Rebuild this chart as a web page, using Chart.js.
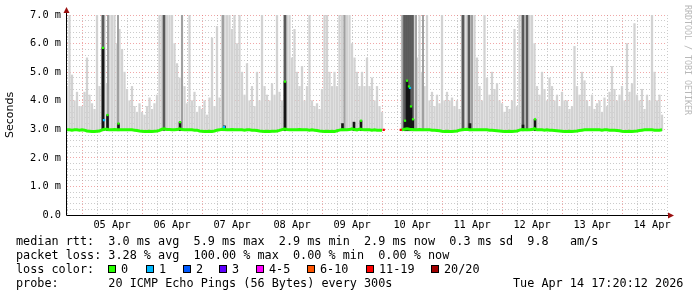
<!DOCTYPE html>
<html>
<head>
<meta charset="utf-8">
<script src="https://cdn.jsdelivr.net/npm/chart.js@4.4.1/dist/chart.umd.min.js"></script>
<style>
  html, body { margin: 0; padding: 0; background: #fff; }
  #wrap { position: relative; width: 697px; height: 297px; overflow: hidden; }
  #chart { position: absolute; left: 0; top: 0; }
  .t { position: absolute; font-family: "DejaVu Sans Mono", monospace; font-size: 11.8px; line-height: 14px; color: #000; white-space: pre; }
  .box { position: absolute; width: 6px; height: 6px; border: 1px solid #000; top: 265px; }
  #credit { position: absolute; left: 683px; top: 5px; writing-mode: vertical-rl; font-family: "DejaVu Sans Mono", monospace; font-size: 8.3px; color: #b8b8b8; white-space: pre; }
</style>
</head>
<body>
<div id="wrap">
  <canvas id="chart" width="697" height="297"></canvas>
  <div id="credit">RRDTOOL / TOBI OETIKER</div>
  <div class="t" style="left:16px;top:234px">median rtt:  3.0 ms avg  5.9 ms max  2.9 ms min  2.9 ms now  0.3 ms sd  9.8   am/s</div>
  <div class="t" style="left:16px;top:248px">packet loss: 3.28 % avg  100.00 % max  0.00 % min  0.00 % now</div>
  <div class="t" style="left:16px;top:262px">loss color:</div>
  <div class="t" style="left:16px;top:276px">probe:       20 ICMP Echo Pings (56 Bytes) every 300s</div>
  <div class="t" style="left:513px;top:276px">Tue Apr 14 17:20:12 2026</div>
</div>
<script>
// x values are hours since Apr 4 18:00, one sample per hour
const dayLabels = ['05 Apr', '06 Apr', '07 Apr', '08 Apr', '09 Apr', '10 Apr', '11 Apr', '12 Apr', '13 Apr', '14 Apr'];
const yTickLabels = ['0.0', '1.0 m', '2.0 m', '3.0 m', '4.0 m', '5.0 m', '6.0 m', '7.0 m'];

// median rtt (ms) per hour
const medianRtt = [
  2.98,2.98,2.97,2.98,2.98,2.97,2.98,2.97,2.94,2.93,2.92,2.92,2.93,2.94,2.98,3.0,3.0,2.98,2.98,2.99,2.98,2.98,2.98,2.98,
  2.98,2.98,2.98,2.97,2.96,2.94,2.93,2.92,2.92,2.93,2.92,2.93,2.94,2.96,3.0,3.02,2.99,2.99,2.98,2.98,2.99,3.02,2.99,2.98,
  2.98,2.98,2.98,2.97,2.97,2.94,2.93,2.92,2.92,2.93,2.92,2.94,2.97,2.98,3.0,2.99,2.98,2.98,2.99,2.98,2.98,2.98,2.98,2.97,
  2.98,2.98,2.97,2.97,2.96,2.94,2.93,2.92,2.93,2.92,2.93,2.93,2.94,2.96,2.99,3.01,2.99,2.98,2.98,2.98,2.98,2.99,2.98,2.98,
  2.98,2.97,2.98,2.97,2.96,2.94,2.93,2.92,2.93,2.92,2.93,2.92,2.95,2.97,2.99,2.98,2.98,2.99,3.02,2.99,2.98,3.01,2.99,2.98,
  2.98,2.98,2.97,2.98,2.97,2.97,2.97,null,null,null,null,null,null,null,2.98,3.0,3.02,3.0,2.99,2.98,2.98,2.99,2.98,2.98,
  2.98,2.98,2.97,2.97,2.96,2.95,2.93,2.92,2.93,2.92,2.92,2.93,2.94,2.97,2.98,2.99,3.0,2.98,2.98,2.98,2.98,2.98,2.98,2.98,
  2.98,2.97,2.97,2.96,2.95,2.94,2.93,2.92,2.92,2.93,2.92,2.93,2.94,2.97,2.99,2.98,2.98,2.98,2.99,3.02,2.98,2.98,2.98,2.97,
  2.98,2.97,2.97,2.96,2.95,2.94,2.93,2.92,2.92,2.93,2.92,2.93,2.94,2.96,2.97,2.98,2.98,2.98,2.98,2.98,2.98,2.98,2.97,2.98,
  2.98,2.97,2.97,2.97,2.96,2.95,2.93,2.92,2.92,2.93,2.92,2.93,2.94,2.96,2.97,2.98,2.98,2.98,2.98,2.97,2.97,2.97,2.98,null
];

// highest ping of the smoke per hour (ms)
const smokeTop = [
  4.5,7.5,4.9,4.0,4.3,3.8,3.8,4.3,5.5,4.2,3.9,3.7,7.5,4.5,7.5,7.5,4.6,7.5,7.5,7.5,6.0,6.5,5.8,5.0,
  4.4,4.0,4.5,3.8,3.6,3.9,3.6,3.5,3.8,4.1,3.7,3.9,4.2,7.5,7.5,7.5,7.5,7.5,7.5,6.0,5.3,4.8,7.5,4.5,
  3.9,7.5,4.0,4.3,3.6,3.8,3.7,4.0,3.5,4.1,6.2,3.8,6.6,4.1,7.5,7.5,7.5,7.5,6.5,7.5,6.0,7.5,5.0,4.2,
  5.3,4.0,4.5,3.8,5.0,4.0,7.5,4.5,4.2,4.0,4.6,4.2,7.5,4.3,4.0,7.5,7.5,7.5,5.5,6.5,5.0,4.5,5.2,4.0,
  4.5,7.5,4.0,3.8,3.9,3.7,4.4,7.5,7.5,5.0,4.5,5.0,4.5,7.5,7.5,7.5,7.5,7.5,6.0,5.5,5.0,4.5,5.0,4.5,
  5.5,4.5,4.8,4.0,4.5,3.8,3.6,null,null,null,null,null,null,null,7.5,7.5,7.5,7.5,7.5,7.5,5.5,7.5,5.0,4.5,
  7.5,4.0,4.3,3.8,4.2,3.9,7.5,4.0,4.3,4.0,4.1,3.8,4.0,3.7,7.5,7.5,7.5,7.5,7.5,7.5,5.5,4.5,4.0,7.5,
  4.8,4.2,5.0,4.4,4.6,4.0,3.9,3.6,3.8,3.7,4.0,6.5,3.8,7.5,7.5,7.5,7.5,7.5,7.5,6.0,4.5,4.2,5.0,4.4,
  4.0,4.8,4.5,4.0,4.2,3.8,4.3,4.0,4.0,3.7,3.8,5.9,4.5,4.2,5.0,4.7,4.0,3.8,4.2,3.7,3.9,4.0,3.6,4.1,
  3.8,4.3,5.2,4.4,4.0,4.2,4.5,4.0,6.0,4.3,4.6,6.7,4.2,4.0,4.4,3.7,4.2,4.0,7.5,5.0,4.0,4.2,3.5,null
];

// hours where several pings ran off the top of the graph
const greySpikeHours = [16.4, 20.4, 46.0, 62.4, 111.0, 134.2, 139.6, 142.4, 162.0];
const darkSpikeHours = [14.4, 38.8, 87.2, 135.0, 135.8, 136.6, 137.4, 138.2, 158.4, 160.8, 182.4, 184.0];

// packet loss periods: hour and top of the dark bar (ms)
const lossHours = [14.4, 16.2, 20.6, 45.2, 63.0, 87.2, 110.2, 114.8, 117.6, 135.2, 136.0, 136.8, 137.6, 138.4, 161.2, 182.4, 187.2];
const lossTops  = [5.85, 3.5, 3.2, 3.25, 3.12, 4.67, 3.2, 3.25, 3.3, 3.3, 4.7, 4.5, 3.8, 3.35, 3.2, 3.15, 3.35];

// coloured median points
const greenDotHours = [14.4, 16.2, 20.6, 45.2, 87.2, 117.6, 135.2, 136.0, 136.8, 137.6, 138.4, 187.2];
const greenDotVals  = [5.85, 3.5, 3.2, 3.25, 4.67, 3.3, 3.3, 4.7, 4.5, 3.8, 3.35, 3.35];
const blueDotHours = [14.8, 62.8, 137.2];
const blueDotVals  = [3.32, 3.08, 4.45];
const redDotHours = [126.7, 133.5];
const redDotVals  = [2.98, 2.98];

const lossLabels = ['0', '1', '2', '3', '4-5', '6-10', '11-19', '20/20'];
const lossColors = ['#26ff00', '#00b8ff', '#0059ff', '#5e00ff', '#ff00ff', '#ff5500', '#ff0000', '#a00000'];
const lossBoxX = [108, 146, 183, 219, 256, 307, 366, 431];

const SMOKE_BASE = 2.95;

function buildLossLegend() {
    const wrap = document.getElementById('wrap');
    lossLabels.forEach((lab, i) => {
        const b = document.createElement('div');
        b.className = 'box';
        b.style.left = lossBoxX[i] + 'px';
        b.style.background = lossColors[i];
        wrap.appendChild(b);
        const t = document.createElement('div');
        t.className = 't';
        t.style.left = (lossBoxX[i] + 13) + 'px';
        t.style.top = '262px';
        t.textContent = lab;
        wrap.appendChild(t);
    });
}

const axisArrows = {
    id: 'axisArrows',
    afterDatasetsDraw(chart) {
        const {ctx, chartArea: a} = chart;
        const ax = Math.round(a.left) - 0.5;
        const ay = Math.round(a.bottom) + 0.5;
        ctx.save();
        ctx.strokeStyle = '#000';
        ctx.lineWidth = 1;
        ctx.beginPath();
        ctx.moveTo(ax, a.top - 5);
        ctx.lineTo(ax, ay);
        ctx.lineTo(a.right + 3, ay);
        ctx.stroke();
        ctx.fillStyle = '#9a1010';
        ctx.beginPath();
        ctx.moveTo(ax, a.top - 8);
        ctx.lineTo(ax - 3, a.top - 2);
        ctx.lineTo(ax + 3, a.top - 2);
        ctx.closePath();
        ctx.fill();
        ctx.beginPath();
        ctx.moveTo(a.right + 7, ay);
        ctx.lineTo(a.right + 1, ay - 3);
        ctx.lineTo(a.right + 1, ay + 3);
        ctx.closePath();
        ctx.fill();
        ctx.restore();
    }
};

function renderChart() {
    const ctx = document.getElementById('chart').getContext('2d');
    const smoke = [];
    const median = [];
    smokeTop.forEach((v, h) => {
        if (v !== null) smoke.push({x: h, y: [SMOKE_BASE, v]});
        median.push({x: h, y: medianRtt[h]});
    });
    const fullCol = hrs => hrs.map(h => ({x: h, y: [SMOKE_BASE, 7.5]}));
    const pts = (hrs, vals) => hrs.map((h, i) => ({x: h, y: vals[i]}));

    const gridColorX = c => {
        const v = c.tick.value;
        if (v % 24 === 6) return 'rgba(230,110,110,0.6)';
        return 'rgba(160,160,160,0.55)';
    };
    const gridColorY = c => {
        const v = c.tick.value;
        if (Math.abs(v - Math.round(v)) < 1e-6) return 'rgba(230,110,110,0.6)';
        return 'rgba(160,160,160,0.55)';
    };

    new Chart(ctx, {
        type: 'bar',
        data: {
            datasets: [
                {
                    type: 'scatter',
                    data: pts(greenDotHours, greenDotVals),
                    backgroundColor: '#26ff00',
                    borderWidth: 0,
                    pointStyle: 'rect',
                    pointRadius: 1.6,
                    order: 1
                },
                {
                    type: 'scatter',
                    data: pts(blueDotHours, blueDotVals),
                    backgroundColor: '#00b8ff',
                    borderWidth: 0,
                    pointStyle: 'rect',
                    pointRadius: 1.6,
                    order: 1
                },
                {
                    type: 'scatter',
                    data: pts(redDotHours, redDotVals),
                    backgroundColor: '#ff0000',
                    borderWidth: 0,
                    pointStyle: 'rect',
                    pointRadius: 1.6,
                    order: 1
                },
                {
                    type: 'line',
                    data: median,
                    borderColor: '#26ff00',
                    borderWidth: 3,
                    pointRadius: 0,
                    tension: 0,
                    spanGaps: false,
                    order: 2
                },
                {
                    data: pts(lossHours, lossTops).map(p => ({x: p.x, y: [SMOKE_BASE, p.y]})),
                    backgroundColor: '#151515',
                    barThickness: 2,
                    grouped: false,
                    order: 3
                },
                {
                    data: fullCol(darkSpikeHours),
                    backgroundColor: '#5a5a5a',
                    barThickness: 2,
                    grouped: false,
                    order: 4
                },
                {
                    data: fullCol(greySpikeHours),
                    backgroundColor: '#a0a0a0',
                    barThickness: 1.4,
                    grouped: false,
                    order: 5
                },
                {
                    data: smoke,
                    backgroundColor: '#d2d2d2',
                    barThickness: 1.6,
                    grouped: false,
                    order: 6
                }
            ]
        },
        options: {
            responsive: false,
            animation: false,
            events: [],
            layout: {padding: {left: 0, top: 15, right: 30, bottom: 62}},
            plugins: {legend: {display: false}, tooltip: {enabled: false}},
            scales: {
                x: {
                    type: 'linear',
                    min: 0,
                    max: 240,
                    offset: false,
                    afterFit: s => { s.height = 20; },
                    afterBuildTicks: s => {
                        const t = [];
                        for (let v = 0; v <= 240; v += 6) t.push({value: v});
                        s.ticks = t;
                    },
                    grid: {color: gridColorX, offset: false, drawTicks: false, lineWidth: 1},
                    border: {display: false, dash: [1, 2]},
                    ticks: {
                        autoSkip: false,
                        maxRotation: 0,
                        padding: 4,
                        color: '#000',
                        font: {family: 'DejaVu Sans Mono', size: 10.3},
                        callback: v => (v >= 18 && (v - 18) % 24 === 0) ? dayLabels[(v - 18) / 24] : ''
                    }
                },
                y: {
                    min: 0,
                    max: 7,
                    afterFit: s => { s.width = 67; },
                    afterBuildTicks: s => {
                        const t = [];
                        for (let i = 0; i <= 35; i++) t.push({value: Math.round(i * 2) / 10});
                        s.ticks = t;
                    },
                    grid: {color: gridColorY, drawTicks: false, lineWidth: 1},
                    border: {display: false, dash: [1, 2]},
                    title: {
                        display: true,
                        text: 'Seconds',
                        color: '#000',
                        padding: {top: 4, bottom: 0},
                        font: {family: 'DejaVu Sans', size: 11}
                    },
                    ticks: {
                        autoSkip: false,
                        padding: 6,
                        color: '#000',
                        font: {family: 'DejaVu Sans Mono', size: 10.3},
                        callback: v => {
                            const r = Math.round(v);
                            return Math.abs(v - r) < 1e-6 ? yTickLabels[r] : '';
                        }
                    }
                }
            }
        },
        plugins: [axisArrows]
    });
}

buildLossLegend();
renderChart();
</script>
</body>
</html>
